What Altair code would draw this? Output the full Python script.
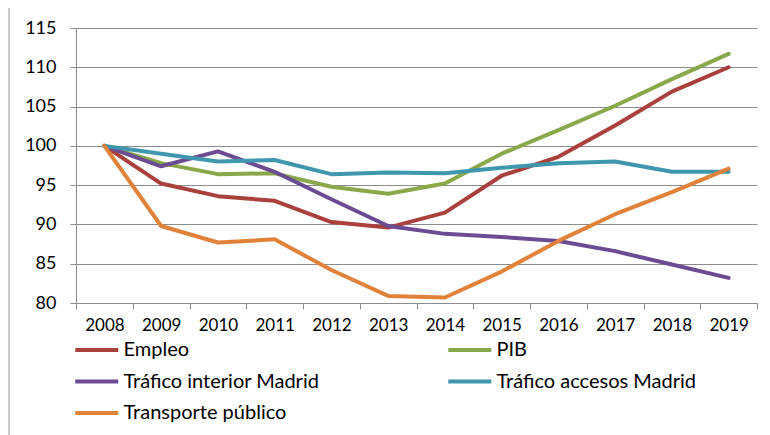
import altair as alt
import pandas as pd

years = ["2008", "2009", "2010", "2011", "2012", "2013", "2014", "2015", "2016", "2017", "2018", "2019"]
empleo = [100, 95.2, 93.6, 93.0, 90.3, 89.6, 91.5, 96.2, 98.6, 102.6, 106.9, 110.0]
pib = [100, 97.8, 96.4, 96.5, 94.8, 93.9, 95.2, 99.0, 102.0, 105.1, 108.5, 111.7]
trafico_interior = [100, 97.4, 99.3, 96.7, 93.2, 89.8, 88.8, 88.4, 87.9, 86.6, 84.9, 83.2]
trafico_accesos = [100, 99.0, 98.0, 98.2, 96.4, 96.6, 96.5, 97.2, 97.8, 98.0, 96.7, 96.7]
transporte = [100, 89.8, 87.7, 88.1, 84.2, 80.9, 80.7, 84.0, 87.9, 91.3, 94.1, 97.1]

series_names = ["Empleo", "PIB", "Tráfico interior Madrid", "Tráfico accesos Madrid", "Transporte público"]
series_vals = [empleo, pib, trafico_interior, trafico_accesos, transporte]
colors = ["#A9403C", "#88A84A", "#6B4C93", "#3E97AD", "#E0823A"]
y_ticks = [80, 85, 90, 95, 100, 105, 110, 115]

rows = []
for name, vals in zip(series_names, series_vals):
    for yr, v in zip(years, vals):
        rows.append({"year": yr, "value": v, "serie": name, "ord": series_names.index(name)})
df = pd.DataFrame(rows)

FONT = "Lato"
GRID = "#8c8c8c"

lines = alt.Chart(df).mark_line(strokeWidth=4, strokeCap="round", strokeJoin="round").encode(
    x=alt.X("year:O", sort=years,
            scale=alt.Scale(paddingInner=0, paddingOuter=0),
            axis=alt.Axis(title=None, labelAngle=0, tickBand="extent", grid=False,
                          domainColor=GRID, tickColor=GRID, tickSize=6,
                          labelFont=FONT, labelFontSize=17, labelColor="#000000",
                          labelPadding=8)),
    y=alt.Y("value:Q", scale=alt.Scale(domain=[80, 115], nice=False, zero=False),
            axis=alt.Axis(title=None, values=y_ticks, grid=True, gridColor=GRID,
                          domainColor=GRID, tickColor=GRID, tickSize=6,
                          labelFont=FONT, labelFontSize=18, labelColor="#000000",
                          labelPadding=14)),
    color=alt.Color("serie:N", sort=series_names,
                    scale=alt.Scale(domain=series_names, range=colors),
                    legend=alt.Legend(title=None, orient="none", legendX=7.75, legendY=309,
                                      direction="horizontal",
                                      columns=2, columnPadding=120, rowPadding=8.5,
                                      symbolType="M-2,0H2", symbolSize=462,
                                      symbolStrokeWidth=4, labelOffset=13.75, labelLimit=400,
                                      labelFont=FONT, labelFontSize=20,
                                      labelColor="#000000", padding=0)),
    order=alt.Order("ord:Q"),
)

border = alt.Chart(pd.DataFrame({"a": [0]})).mark_rect(fillOpacity=0, stroke="#999999", strokeWidth=1).encode(
    x=alt.value(-67), x2=alt.value(800), y=alt.value(-22), y2=alt.value(500)
)

chart = alt.layer(border, lines).properties(
    width=681, height=275,
    autosize=alt.AutoSizeParams(type="none"),
    padding={"left": 68, "top": 20, "right": 5, "bottom": 132},
).configure_view(stroke=None)

chart.save("out.html", embed_options={"renderer": "svg", "actions": False})
